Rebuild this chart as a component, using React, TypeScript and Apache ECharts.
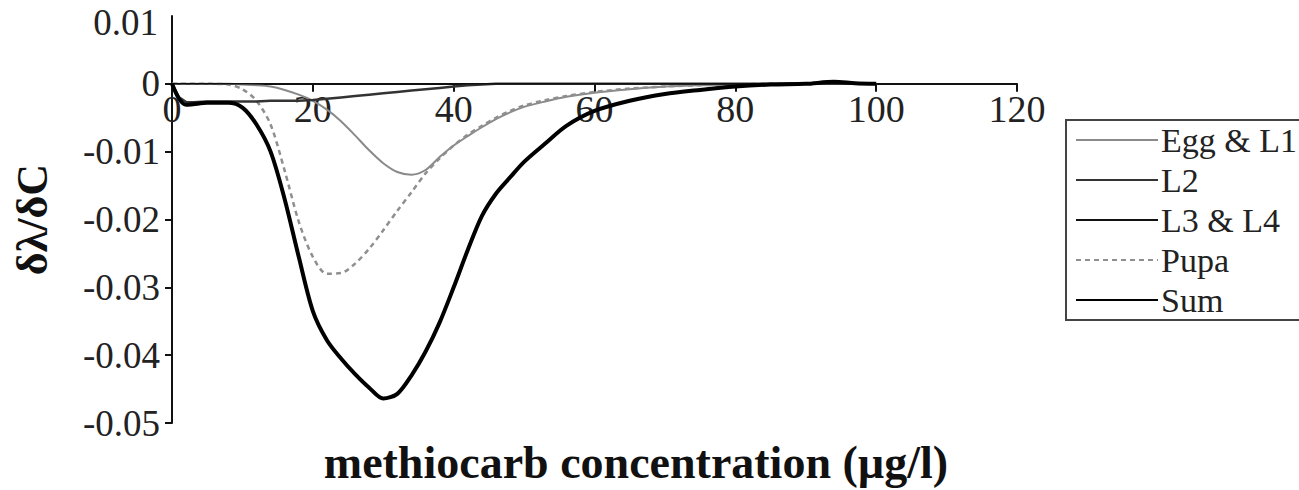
import React, { useEffect, useRef } from "react";
import * as echarts from "echarts";

// methiocarb concentration (µg/l) at which each curve is sampled
const concentration = [
  0, 1, 2, 3, 5, 8, 10, 12, 14, 16, 18, 20, 22, 24, 26, 28, 30, 32, 34, 36, 38,
  40, 42, 44, 46, 48, 50, 53, 56, 60, 65, 70, 75, 80, 85, 90, 94, 97, 100,
];

const eggL1 = [
  0, 0, 0, 0, 0, 0, -0.0001, -0.0002, -0.0004, -0.0009, -0.0016, -0.0025,
  -0.0038, -0.0055, -0.0076, -0.0098, -0.0117, -0.013, -0.0134, -0.0127,
  -0.0108, -0.0091, -0.0077, -0.0064, -0.0052, -0.0042, -0.0034, -0.0026,
  -0.0019, -0.0013, -0.0008, -0.0004, -0.0002, -0.0001, 0, 0, 0, 0, 0,
];

const l2 = [
  0, -0.002, -0.0027, -0.0027, -0.0026, -0.0026, -0.0026, -0.0026, -0.0025,
  -0.0025, -0.0025, -0.0024, -0.0022, -0.002, -0.0018, -0.0016, -0.0014,
  -0.0012, -0.001, -0.0008, -0.0006, -0.0004, -0.0002, -0.0001, 0, 0, 0, 0, 0,
  0, 0, 0, 0, 0, 0, 0, 0, 0, 0,
];

const l3l4 = [
  0, 0, 0, 0, 0, 0, 0, 0, 0, 0, 0, 0, 0, 0, 0, 0, 0, 0, 0, 0, 0, 0, 0, 0, 0, 0,
  0, 0, 0, 0, 0, 0, 0, 0, 0, 0.0001, 0.0002, 0.0001, 0,
];

const pupa = [
  0, 0, 0, 0, 0, -0.0001, -0.0008, -0.0025, -0.006, -0.0128, -0.0203, -0.0255,
  -0.028, -0.0279, -0.0265, -0.0243, -0.0216, -0.0187, -0.016, -0.0132, -0.011,
  -0.0091, -0.0075, -0.0062, -0.005, -0.004, -0.0032, -0.0024, -0.0018,
  -0.0012, -0.0007, -0.0004, -0.0002, -0.0001, 0, 0, 0, 0, 0,
];

const sum = [
  0, -0.0022, -0.0031, -0.003, -0.0028, -0.0028, -0.0035, -0.006, -0.01,
  -0.017, -0.0255, -0.0335, -0.0378, -0.0405, -0.0428, -0.0448, -0.0464,
  -0.0457, -0.043, -0.0395, -0.0352, -0.03, -0.0245, -0.0195, -0.0162,
  -0.0138, -0.0115, -0.0088, -0.0062, -0.004, -0.0025, -0.0015, -0.0009,
  -0.0004, -0.0001, 0, 0.0003, 0.0001, 0,
];

const xTicks = { min: 0, max: 120, interval: 20 };
const yTicks = { min: -0.05, max: 0.01, interval: 0.01 };

const serif = '"Liberation Serif", "Times New Roman", serif';

const pairs = (ys: number[]) => concentration.map((c, i) => [c, ys[i]]);
const fmt = (v: number) => String(Number(v.toFixed(2)));

const GRID_LEFT = 172;
const GRID_TOP = 16;
const GRID_BOTTOM = 67;
const CHART_H = 490;
const Y_LABEL_SIZE = 37;
const Y_LABEL_MARGIN = 12;

export default function App() {
  const ref = useRef<HTMLDivElement>(null);

  useEffect(() => {
    if (!ref.current) return;
    const chart = echarts.init(ref.current, undefined, { renderer: "svg" });

    // the horizontal axis sits on y = 0, so shift it up from the grid's bottom edge
    const plotH = CHART_H - GRID_TOP - GRID_BOTTOM;
    const zeroOffset = -plotH * ((0 - yTicks.min) / (yTicks.max - yTicks.min));

    const lineSeries = (
      name: string,
      ys: number[],
      lineStyle: Record<string, unknown>,
      smooth: number | boolean,
      z: number
    ) => ({
      name,
      type: "line",
      data: pairs(ys),
      symbol: "none",
      smooth,
      lineStyle,
      itemStyle: { color: lineStyle.color },
      z,
    });

    chart.setOption({
      animation: false,
      backgroundColor: "#ffffff",
      grid: { left: GRID_LEFT, right: 282, top: GRID_TOP, bottom: GRID_BOTTOM, containLabel: false },
      xAxis: {
        type: "value",
        min: xTicks.min,
        max: xTicks.max,
        interval: xTicks.interval,
        offset: zeroOffset,
        axisLine: { show: true, onZero: false, lineStyle: { color: "#111", width: 2 } },
        axisTick: { show: true, inside: false, length: 8, lineStyle: { color: "#111", width: 2 } },
        axisLabel: { fontFamily: serif, fontSize: 38, color: "#222", margin: 6 },
        splitLine: { show: false },
      },
      yAxis: {
        type: "value",
        min: yTicks.min,
        max: yTicks.max,
        interval: yTicks.interval,
        name: "δλ/δC",
        nameLocation: "middle",
        nameRotate: 90,
        nameGap: 118,
        nameTextStyle: { fontFamily: serif, fontSize: 44, fontWeight: "bold", color: "#111" },
        axisLine: { show: true, lineStyle: { color: "#111", width: 2 } },
        axisTick: { show: true, length: 7, lineStyle: { color: "#111", width: 2 } },
        axisLabel: {
          fontFamily: serif,
          fontSize: Y_LABEL_SIZE,
          color: "#222",
          margin: Y_LABEL_MARGIN,
          showMaxLabel: false,
          formatter: fmt,
        },
        splitLine: { show: false },
      },
      legend: {
        orient: "vertical",
        left: 1066,
        top: 120,
        padding: [3, 60, 3, 9],
        borderColor: "#444",
        borderWidth: 2,
        itemWidth: 82,
        itemHeight: 14,
        itemGap: 6,
        itemStyle: { opacity: 0 },
        textStyle: { fontFamily: serif, fontSize: 34, lineHeight: 34, color: "#222", padding: [0, 0, 0, -2] },
        data: ["Egg & L1", "L2", "L3 & L4", "Pupa", "Sum"],
      },
      graphic: [
        {
          // top tick label, set a little lower so it stays inside the page
          type: "text",
          x: GRID_LEFT - Y_LABEL_MARGIN - 2,
          y: GRID_TOP + 6,
          style: {
            text: fmt(yTicks.max),
            fontFamily: serif,
            fontSize: Y_LABEL_SIZE,
            fill: "#222",
            textAlign: "right",
            textVerticalAlign: "middle",
          },
        },
        {
          type: "text",
          x: 636,
          y: 462,
          style: {
            text: "methiocarb concentration (µg/l)",
            fontFamily: serif,
            fontSize: 46,
            fontWeight: "bold",
            fill: "#111",
            textAlign: "center",
            textVerticalAlign: "middle",
          },
        },
      ],
      series: [
        lineSeries("Egg & L1", eggL1, { color: "#8a8a8a", width: 2 }, 0.3, 3),
        lineSeries("L2", l2, { color: "#333333", width: 2.5 }, false, 4),
        lineSeries("L3 & L4", l3l4, { color: "#111111", width: 1.5 }, false, 4),
        lineSeries("Pupa", pupa, { color: "#8f8f8f", width: 2.5, type: [5, 4] }, 0.3, 3),
        lineSeries("Sum", sum, { color: "#000000", width: 4 }, 0.3, 5),
      ],
    });

    return () => chart.dispose();
  }, []);

  return (
    <div
      ref={ref}
      style={{ position: "absolute", left: 0, top: 0, width: 1299, height: 490 }}
    />
  );
}
